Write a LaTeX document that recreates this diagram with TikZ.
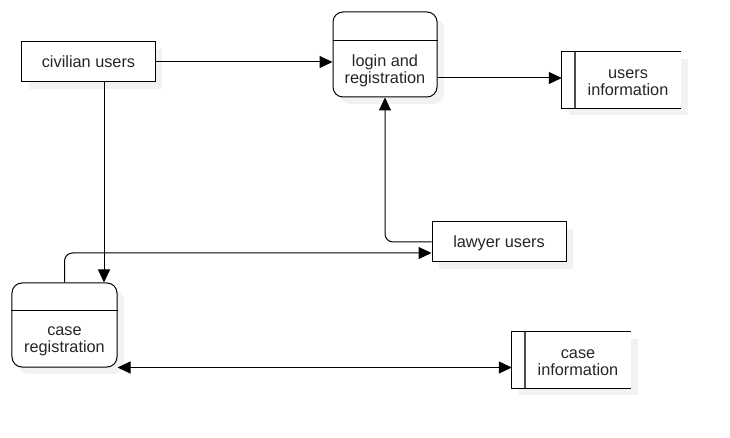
\documentclass[tikz,border=0pt]{standalone}
\usepackage{fontspec}
\setmainfont{Liberation Sans}
\usetikzlibrary{arrows.meta,shadows}
\begin{document}
\begin{tikzpicture}[x=1bp,y=-1bp,
  every node/.style={font=\fontsize{16.3bp}{17bp}\selectfont, inner sep=0pt, text=black!85},
  shad/.style={drop shadow={shadow xshift=7bp,shadow yshift=-7bp,fill=black!5,opacity=1}},
  entity/.style={draw, line width=1bp, fill=white, shad, text height=13bp, text depth=1bp},
  process/.style={draw, line width=1bp, fill=white, rounded corners=10bp, minimum width=104bp, minimum height=85bp, shad},
  store/.style={fill=white, minimum width=119bp, minimum height=56bp, shad},
  storeline/.style={line width=1bp},
  storeinner/.style={line width=1.8bp, black!70},
  tip/.tip={Triangle[length=13bp,width=12bp]},
  flow/.style={line width=1bp, -tip},
  flowboth/.style={line width=1bp, tip-tip}
]
\useasboundingbox (0,0) rectangle (730,438);
\fill[white] (0,0) rectangle (730,438);

% entities
\node[entity, minimum width=133bp, minimum height=40bp] (civilian) at (88.5,62) {civilian users};
\node[entity, minimum width=134bp, minimum height=40bp] (lawyer) at (499,242) {lawyer users};

% processes
\node[process, label={[yshift=-16bp,align=center]center:login and\\registration}] (login) at (385,54.5) {};
\draw[line width=1bp] ([yshift=-29bp]login.north west) -- ([yshift=-29bp]login.north east);
\node[process, minimum width=105bp, minimum height=84bp, label={[yshift=-16bp,align=center]center:case\\registration}] (casereg) at (64.5,325) {};
\draw[line width=1bp] ([yshift=-28bp]casereg.north west) -- ([yshift=-28bp]casereg.north east);

% data stores
\node[store, label={[xshift=6.5bp,yshift=-2.5bp,align=center]center:users\\information}] (usersinfo) at (621.5,80) {};
\draw[storeline] (usersinfo.north east) -- (usersinfo.north west) -- (usersinfo.south west) -- (usersinfo.south east);
\draw[storeinner] ([xshift=13bp]usersinfo.north west) -- ([xshift=13bp]usersinfo.south west);

\node[store, label={[xshift=6.5bp,yshift=-2.5bp,align=center]center:case\\information}] (caseinfo) at (571.5,360) {};
\draw[storeline] (caseinfo.north east) -- (caseinfo.north west) -- (caseinfo.south west) -- (caseinfo.south east);
\draw[storeinner] ([xshift=13bp]caseinfo.north west) -- ([xshift=13bp]caseinfo.south west);

% flows
\draw[flow] (civilian.east) -- (civilian.east -| login.west);
\draw[flow] ([yshift=2bp]usersinfo.west -| login.east) -- ([yshift=2bp]usersinfo.west);
\draw[flow] ([xshift=15.5bp]civilian.south) -- ([xshift=15.5bp]civilian.south |- casereg.north);
\draw[flow, rounded corners=8bp] (lawyer.west) -| (login.south);
\draw[flow, rounded corners=8bp] (casereg.north) |- ([yshift=-11bp]lawyer.west);
\draw[flowboth] (casereg.south east) -- (casereg.south east -| caseinfo.west);
\end{tikzpicture}
\end{document}
